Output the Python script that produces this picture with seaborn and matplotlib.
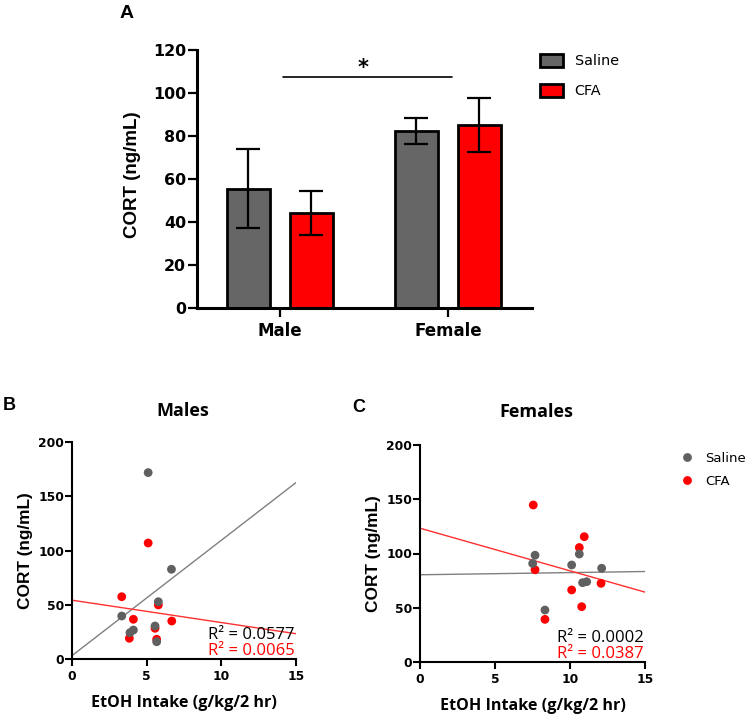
import matplotlib
matplotlib.use("Agg")
import matplotlib.pyplot as plt
import seaborn as sns
import numpy as np
import pandas as pd

# ---------------- data ----------------
sexes = ["Male", "Female"]
treatments = ["Saline", "CFA"]
saline_mean = [55.5, 82.2]
cfa_mean = [44.0, 85.0]
saline_sem = [18.3, 6.0]
cfa_sem = [10.2, 12.5]

male_saline_x = [5.10, 6.66, 5.78, 3.33, 5.56, 3.88, 4.11, 5.67]
male_saline_y = [171.8, 82.7, 52.8, 39.6, 30.4, 24.2, 26.7, 15.9]
male_cfa_x = [5.10, 3.33, 5.78, 4.11, 6.68, 5.56, 3.84, 5.67]
male_cfa_y = [106.9, 57.4, 49.8, 36.6, 35.0, 28.3, 19.1, 18.2]

female_saline_x = [7.67, 7.51, 8.33, 10.11, 10.62, 10.84, 11.11, 12.11]
female_saline_y = [98.4, 90.8, 47.9, 89.4, 99.5, 73.1, 74.0, 86.4]
female_cfa_x = [7.55, 7.67, 8.33, 10.11, 10.62, 10.95, 10.78, 12.07]
female_cfa_y = [144.7, 85.0, 39.3, 66.4, 105.5, 115.5, 51.0, 72.5]

fit_x = [0, 15]
male_fit_saline = [3.1, 162.6]
male_fit_cfa = [54.2, 23.3]
female_fit_saline = [80.4, 83.4]
female_fit_cfa = [123.3, 64.4]

male_r2 = ["0.0577", "0.0065"]
female_r2 = ["0.0002", "0.0387"]

bar_colors = {"Saline": "#666666", "CFA": "#ff0000"}
dot_colors = {"Saline": "#606060", "CFA": "#ff0000"}

sns.set_style("ticks")
plt.rcParams["font.family"] = ["DejaVu Sans"]
plt.rcParams["text.color"] = "black"
plt.rcParams["axes.labelcolor"] = "black"
plt.rcParams["xtick.color"] = "black"
plt.rcParams["ytick.color"] = "black"
plt.rcParams["axes.edgecolor"] = "black"

W, H = 750, 718
fig = plt.figure(figsize=(W / 100, H / 100), dpi=100)


def fx(px):
    return px / W


def fy(py):
    return 1 - py / H


BOLD = dict(family="DejaVu Sans", weight="bold")
ARIALB = dict(family="Liberation Sans", weight="bold")
OSB = dict(family="Open Sans", weight="bold")
OS = dict(family="Open Sans")

# ---------------- panel A ----------------
axA = fig.add_axes([fx(197), fy(308), fx(532) - fx(197), fy(50) - fy(308)])
df_bar = pd.DataFrame({
    "Sex": sexes * 2,
    "Treatment": ["Saline"] * 2 + ["CFA"] * 2,
    "CORT": saline_mean + cfa_mean,
})
sns.barplot(data=df_bar, x="Sex", y="CORT", hue="Treatment", order=sexes,
            hue_order=treatments, palette=bar_colors, width=0.75, gap=0.32,
            errorbar=None, edgecolor="black", linewidth=2.0, saturation=1,
            ax=axA)
sems = {"Saline": saline_sem, "CFA": cfa_sem}
means = {"Saline": saline_mean, "CFA": cfa_mean}
for cont, tr in zip(axA.containers, treatments):
    for bar, m, e in zip(cont, means[tr], sems[tr]):
        cx = bar.get_x() + bar.get_width() / 2
        axA.errorbar(cx, m, yerr=e, color="black", capsize=8.5, elinewidth=1.6,
                     capthick=1.6, zorder=5)
axA.set_xlim(-0.494, 1.5)
axA.set_ylim(0, 120)
axA.set_yticks(range(0, 121, 20))
axA.set_xlabel("")
axA.set_ylabel("CORT (ng/mL)", fontsize=13.5, **ARIALB)
axA.yaxis.set_label_coords(-0.168, 0.515)
for s in ["top", "right"]:
    axA.spines[s].set_visible(False)
for s in ["left", "bottom"]:
    axA.spines[s].set_linewidth(2.2)
    axA.spines[s].set_color("black")
axA.tick_params(axis="both", length=6.5, width=1.6, color="black")
axA.tick_params(axis="y", pad=1.5)
axA.tick_params(axis="x", pad=3.5)
for lab in axA.get_yticklabels():
    lab.set_fontsize(11.4)
    lab.set_fontweight("bold")
for lab in axA.get_xticklabels():
    lab.set_fontsize(12)
    lab.set_fontweight("bold")
# significance
axA.plot([0.018, 1.024], [107.4, 107.4], color="black", lw=1.2)
axA.text(0.494, 111.5, "*", ha="center", va="center", fontsize=15, **BOLD)
handles, labels = axA.get_legend_handles_labels()
axA.legend(handles, labels, frameon=False, loc="upper left",
           bbox_to_anchor=(fx(540), fy(54)), bbox_transform=fig.transFigure,
           borderpad=0, borderaxespad=0, fontsize=10.4, handlelength=1.6,
           handleheight=1.0, handletextpad=0.8, labelspacing=1.05)
fig.text(fx(127), fy(14), "A", ha="center", va="center", fontsize=14, **ARIALB)


# ---------------- scatter panels ----------------
def scatter_panel(rect, sx, sy, cx, cy, fit_s, fit_c, r2, title, letter,
                  letter_pos, title_pos, legend):
    ax = fig.add_axes(rect)
    df = pd.DataFrame({
        "x": cx + sx,
        "y": cy + sy,
        "Treatment": ["CFA"] * len(cx) + ["Saline"] * len(sx),
    })
    sns.lineplot(x=fit_x, y=fit_s, color="#808080", lw=1.0, ax=ax, zorder=2)
    sns.lineplot(x=fit_x, y=fit_c, color="#ff3030", lw=1.0, ax=ax, zorder=2)
    sns.scatterplot(data=df, x="x", y="y", hue="Treatment",
                    hue_order=treatments, palette=dot_colors, s=40,
                    edgecolor="none", ax=ax, legend=legend, zorder=3,
                    clip_on=False)
    ax.set_xlim(0, 15)
    ax.set_ylim(0, 200)
    ax.set_xticks([0, 5, 10, 15])
    ax.set_yticks([0, 50, 100, 150, 200])
    for s in ["top", "right"]:
        ax.spines[s].set_visible(False)
    for s in ["left", "bottom"]:
        ax.spines[s].set_linewidth(1.5)
        ax.spines[s].set_color("black")
    ax.tick_params(axis="both", length=4.8, width=1.5, color="black")
    ax.tick_params(axis="y", pad=1)
    ax.tick_params(axis="x", pad=3)
    for lab in ax.get_xticklabels() + ax.get_yticklabels():
        lab.set_fontsize(8.8)
        lab.set_fontweight("bold")
    ax.set_ylabel("CORT (ng/mL)", fontsize=12.4, **ARIALB)
    ax.set_xlabel("EtOH Intake (g/kg/2 hr)", fontsize=11.6, **OSB)
    ax.yaxis.set_label_coords(-0.172, 0.5)
    ax.xaxis.set_label_coords(0.5, -0.165)
    ax.text(14.9, 18, "R\u00b2 = " + r2[0], ha="right", va="baseline",
            color="black", fontsize=12, **OS)
    ax.text(14.9, 3.5, "R\u00b2 = " + r2[1], ha="right", va="baseline",
            color="#ff0000", fontsize=12, **OS)
    fig.text(fx(title_pos[0]), fy(title_pos[1]), title, ha="center",
             va="center", fontsize=13, **OSB)
    fig.text(fx(letter_pos[0]), fy(letter_pos[1]), letter, ha="center",
             va="center", fontsize=13, **ARIALB)
    return ax


axB = scatter_panel([fx(72), fy(659), fx(296) - fx(72), fy(442) - fy(659)],
                    male_saline_x, male_saline_y, male_cfa_x, male_cfa_y,
                    male_fit_saline, male_fit_cfa, male_r2, "Males", "B",
                    (9, 406), (183, 411), False)
axC = scatter_panel([fx(420), fy(662), fx(645) - fx(420), fy(445) - fy(662)],
                    female_saline_x, female_saline_y, female_cfa_x,
                    female_cfa_y, female_fit_saline, female_fit_cfa,
                    female_r2, "Females", "C", (359, 407), (536, 412), True)
h, l = axC.get_legend_handles_labels()
axC.legend(h, l, frameon=False, loc="upper left",
           bbox_to_anchor=(fx(681), fy(452)), bbox_transform=fig.transFigure,
           borderpad=0, borderaxespad=0, fontsize=9.5, handlelength=0.9,
           handletextpad=0.9, labelspacing=0.75, markerscale=1.0)

fig.savefig("out.png", dpi=100)
